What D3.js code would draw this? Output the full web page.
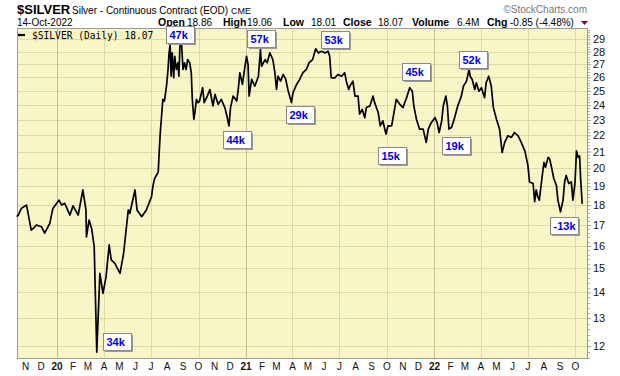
<!DOCTYPE html>
<html><head><meta charset="utf-8">
<script src="https://cdn.jsdelivr.net/npm/d3@7"></script>
<style>
body{margin:0;background:#fff;}
svg{display:block;font-family:"Liberation Sans",Arial,sans-serif;}
</style>
</head><body>
<svg id="chart" width="620" height="376"></svg>
<script>
// ---- data ----
const dates = ["2019-10-15","2019-10-18","2019-10-24","2019-11-03","2019-11-06","2019-11-12","2019-11-16","2019-11-22","2019-12-02","2019-12-08","2019-12-18","2019-12-24",
"2020-01-05","2020-01-10","2020-01-16","2020-01-26","2020-02-01","2020-02-11","2020-02-20","2020-02-26","2020-02-27","2020-03-03","2020-03-08","2020-03-13","2020-03-18","2020-03-24","2020-03-30","2020-04-05","2020-04-11","2020-04-15","2020-04-22","2020-05-02","2020-05-09","2020-05-18","2020-05-21","2020-05-31","2020-06-04","2020-06-13","2020-06-22","2020-07-02","2020-07-05","2020-07-08","2020-07-15","2020-07-17","2020-07-19","2020-07-21","2020-07-24","2020-07-27","2020-07-31","2020-08-03","2020-08-05","2020-08-07","2020-08-09","2020-08-11","2020-08-14","2020-08-16","2020-08-19","2020-08-22","2020-08-24","2020-08-26","2020-08-29","2020-09-01","2020-09-04","2020-09-07","2020-09-10","2020-09-14","2020-09-17","2020-09-19","2020-09-22","2020-09-24","2020-09-27","2020-09-30","2020-10-03","2020-10-09","2020-10-12","2020-10-18","2020-10-23","2020-10-29","2020-11-02","2020-11-08","2020-11-14","2020-11-21","2020-11-25","2020-11-29","2020-12-02","2020-12-07","2020-12-14","2020-12-17","2020-12-20","2020-12-25","2020-12-30",
"2021-01-02","2021-01-05","2021-01-07","2021-01-12","2021-01-18","2021-01-25","2021-01-29","2021-01-31","2021-02-07","2021-02-11","2021-02-16","2021-02-22","2021-02-26","2021-03-01","2021-03-04","2021-03-09","2021-03-14","2021-03-19","2021-03-23","2021-03-30","2021-04-02","2021-04-09","2021-04-15","2021-04-21","2021-04-28","2021-05-03","2021-05-10","2021-05-16","2021-05-21","2021-05-27","2021-06-03","2021-06-09","2021-06-12","2021-06-15","2021-06-22","2021-06-28","2021-07-05","2021-07-11","2021-07-15","2021-07-19","2021-07-21","2021-07-27","2021-07-31","2021-08-06","2021-08-09","2021-08-14","2021-08-19","2021-08-22","2021-08-29","2021-09-04","2021-09-07","2021-09-14","2021-09-18","2021-09-23","2021-09-29","2021-10-03","2021-10-10","2021-10-14","2021-10-19","2021-10-26","2021-11-01","2021-11-08","2021-11-14","2021-11-19","2021-11-22","2021-11-27","2021-12-03","2021-12-10","2021-12-16","2021-12-20","2021-12-26",
"2022-01-02","2022-01-06","2022-01-10","2022-01-15","2022-01-18","2022-01-23","2022-01-26","2022-01-29","2022-02-03","2022-02-09","2022-02-15","2022-02-22","2022-02-26","2022-03-04","2022-03-09","2022-03-11","2022-03-15","2022-03-20","2022-03-23","2022-03-28","2022-04-02","2022-04-08","2022-04-11","2022-04-16","2022-04-21","2022-04-25","2022-05-01","2022-05-07","2022-05-12","2022-05-17","2022-05-23","2022-05-30","2022-06-05","2022-06-12","2022-06-18","2022-06-25","2022-07-01","2022-07-04","2022-07-11","2022-07-14","2022-07-17","2022-07-20","2022-07-23","2022-07-28","2022-08-01","2022-08-04","2022-08-09","2022-08-12","2022-08-15","2022-08-20","2022-08-25","2022-08-28","2022-09-02","2022-09-07","2022-09-10","2022-09-13","2022-09-18","2022-09-23","2022-09-26","2022-09-30","2022-10-03","2022-10-06","2022-10-09","2022-10-11","2022-10-14"];
const prices = [17.41,17.49,17.83,18.00,17.58,16.75,16.83,17.00,16.91,16.60,17.08,17.83,
18.26,18.00,18.09,17.49,17.96,17.49,18.80,17.75,16.43,17.24,16.83,15.97,11.79,14.79,13.96,14.65,16.05,15.37,15.22,14.79,15.67,17.75,17.58,18.80,17.75,17.41,17.75,18.44,19.06,19.43,19.79,21.04,22.18,23.05,24.40,24.28,25.34,26.59,27.89,28.57,26.08,27.89,25.96,27.62,26.59,27.10,26.08,28.43,28.71,26.59,27.10,26.59,27.36,27.10,26.34,24.40,23.05,23.49,24.40,24.17,24.28,25.23,24.17,24.63,25.10,23.94,24.75,24.05,24.40,23.83,23.26,22.61,23.83,24.63,24.28,25.10,26.34,25.47,26.84,
27.62,26.97,24.63,25.84,25.34,26.08,28.16,26.84,27.36,27.10,27.89,27.36,26.34,25.10,26.08,25.71,26.21,25.84,25.10,24.17,24.87,25.47,25.84,26.34,26.59,27.10,27.36,28.22,27.89,28.02,27.89,28.02,27.62,25.96,25.96,26.21,26.08,26.34,25.59,25.10,25.34,25.71,24.63,24.63,23.38,23.71,23.15,23.83,23.94,24.63,24.17,23.49,22.61,22.94,22.08,22.61,22.61,23.38,24.40,24.05,23.83,24.52,25.23,24.98,23.94,23.05,22.40,22.40,21.56,22.40,22.83,
23.15,22.83,22.18,22.94,23.94,24.63,23.94,22.40,22.50,23.15,23.94,24.63,25.34,25.71,26.59,26.08,25.84,25.10,25.59,24.98,25.23,24.52,25.59,26.08,25.34,23.83,23.05,22.40,20.94,21.56,21.97,21.87,22.18,21.97,21.56,21.04,20.16,19.24,19.15,18.18,18.80,18.44,18.26,19.43,20.35,20.07,20.65,20.55,20.16,19.43,19.06,18.26,17.66,18.26,19.24,19.60,19.15,19.24,18.26,19.15,21.04,20.65,20.74,19.43,18.07];

const yTickValues = [12,13,14,15,16,17,18,19,20,21,22,23,24,25,26,27,28,29];
const monthLabels = ["N","D","20","F","M","A","M","J","J","A","S","O","N","D","21","F","M","A","M","J","J","A","S","O","N","D","22","F","M","A","M","J","J","A","S","O"];

const noteLabels = ["34k","47k","44k","57k","29k","53k","15k","45k","19k","52k","-13k"];
const noteDates  = ["2020-03-30","2020-07-30","2020-11-17","2021-01-03","2021-03-20","2021-05-27","2021-09-13","2021-10-30","2022-01-15","2022-02-17","2022-08-12"];
const noteValues = [12.46,30.13,22.27,29.79,23.93,29.70,21.27,27.09,21.89,28.04,17.39];

// ---- layout ----
const L = 17, R = 588, T = 28, B = 359;
const parse = d3.timeParse("%Y-%m-%d");
const series = dates.map((d,i)=>({date:parse(d), value:prices[i]}));

const x = d3.scaleTime()
  .domain([new Date(2019,9,15,12), new Date(2022,9,25,7)])
  .range([L, R]);
const y = d3.scaleLog().domain([11.56, 29.96]).range([B, T]);

const svg = d3.select("#chart");

// plot background
svg.append("rect").attr("x",L).attr("y",T).attr("width",R-L).attr("height",B-T)
  .attr("fill","#f8f6c6");

// horizontal grid
svg.append("g").selectAll("line").data(yTickValues).join("line")
  .attr("x1",L).attr("x2",R)
  .attr("y1",d=>Math.round(y(d))+0.5).attr("y2",d=>Math.round(y(d))+0.5)
  .attr("stroke","#dcdba6").attr("stroke-width",1);

// vertical grid (quarters)
const monthDates = d3.timeMonth.range(new Date(2019,10,1), new Date(2022,10,1));
const quarterDates = monthDates.filter(d=>d.getMonth()%3===0);
svg.append("g").selectAll("line").data(quarterDates).join("line")
  .attr("x1",d=>Math.round(x(d))+0.5).attr("x2",d=>Math.round(x(d))+0.5)
  .attr("y1",T).attr("y2",B)
  .attr("stroke",d=>d.getMonth()===0?"#c2c194":"#dcdba6").attr("stroke-width",1);

// border
svg.append("rect").attr("x",L+0.5).attr("y",T+0.5).attr("width",R-L-1).attr("height",B-T-1)
  .attr("fill","none").attr("stroke","#9c9c9c");

// right axis
const yAxis = d3.axisRight(y).tickValues(yTickValues).tickFormat(d3.format("d")).tickSize(3).tickPadding(2);
const ya = svg.append("g").attr("transform",`translate(${R},0)`).call(yAxis);
ya.select(".domain").remove();
ya.selectAll("line").attr("stroke","#9c9c9c");
ya.selectAll("text").attr("font-size","11px").attr("fill","#111").attr("font-family","Liberation Sans, Arial, sans-serif");
// minor ticks
const minor = d3.range(11.6, 29.95, 0.2).filter(v=>Math.abs(v-Math.round(v))>0.05);
svg.append("g").selectAll("line").data(minor).join("line")
  .attr("x1",R).attr("x2",R+2)
  .attr("y1",d=>Math.round(y(d))+0.5).attr("y2",d=>Math.round(y(d))+0.5)
  .attr("stroke","#b5b58c");

// bottom axis labels
const xa = svg.append("g");
xa.selectAll("text").data(monthDates).join("text")
  .attr("x",d=>x(d)).attr("y",370)
  .attr("text-anchor","middle")
  .attr("font-size","10px")
  .attr("font-weight",(d,i)=>d.getMonth()===0?"bold":"normal")
  .attr("fill","#111")
  .text((d,i)=>monthLabels[i]);

// price line
svg.append("path").datum(series)
  .attr("fill","none").attr("stroke","#000").attr("stroke-width",1.7)
  .attr("stroke-linejoin","round")
  .attr("d", d3.line().x(d=>x(d.date)).y(d=>y(d.value)));

// header
const hdr = svg.append("g");
hdr.append("text").attr("x",17).attr("y",14).attr("font-size","13px").attr("font-weight","bold").text("$SILVER");
hdr.append("text").attr("x",72).attr("y",14).attr("font-size","10px").text("Silver - Continuous Contract (EOD)");
hdr.append("text").attr("x",231).attr("y",14).attr("font-size","9px").text("CME");
hdr.append("text").attr("x",17).attr("y",26).attr("font-size","10px").text("14-Oct-2022");
hdr.append("text").attr("x",587).attr("y",13).attr("font-size","10px").attr("fill","#777").attr("text-anchor","end").text("\u00A9StockCharts.com");

const ohlc = [["Open",158,"18.86",187],["High",223,"19.06",247],["Low",283,"18.01",311],["Close",343,"18.07",378],["Volume",412,"6.4M",457],["Chg",487,"-0.85 (-4.48%)",510]];
ohlc.forEach(o=>{
  hdr.append("text").attr("x",o[1]).attr("y",26).attr("font-size","10.5px").attr("font-weight","bold").text(o[0]);
  hdr.append("text").attr("x",o[3]).attr("y",26).attr("font-size","10px").text(o[2]);
});
hdr.append("path").attr("d","M581,21 L588,21 L584.5,25 Z").attr("fill","#8b0a2a");

// legend
svg.append("line").attr("x1",18).attr("x2",25).attr("y1",35).attr("y2",35).attr("stroke","#000").attr("stroke-width",2.2);
svg.append("text").attr("x",32).attr("y",38.5).attr("font-family","DejaVu Sans Mono, monospace").attr("font-size","9.6px").text("$SILVER (Daily) 18.07");

// annotation boxes
const notes = noteLabels.map((t,i)=>({t, date:parse(noteDates[i]), value:noteValues[i]}));
const ng = svg.append("g").selectAll("g").data(notes).join("g")
  .attr("transform",d=>`translate(${Math.round(x(d.date))},${Math.round(y(d.value))})`);
ng.append("rect").attr("x",2).attr("y",2).attr("width",28).attr("height",17).attr("fill","#9a9a9a");
ng.append("rect").attr("x",0.5).attr("y",0.5).attr("width",28).attr("height",17).attr("fill","#fff").attr("stroke","#8a8a8a");
ng.append("text").attr("x",3.5).attr("y",13).attr("font-size","11px").attr("font-weight","bold").attr("fill","#0000e6").text(d=>d.t);
</script>
</body></html>
